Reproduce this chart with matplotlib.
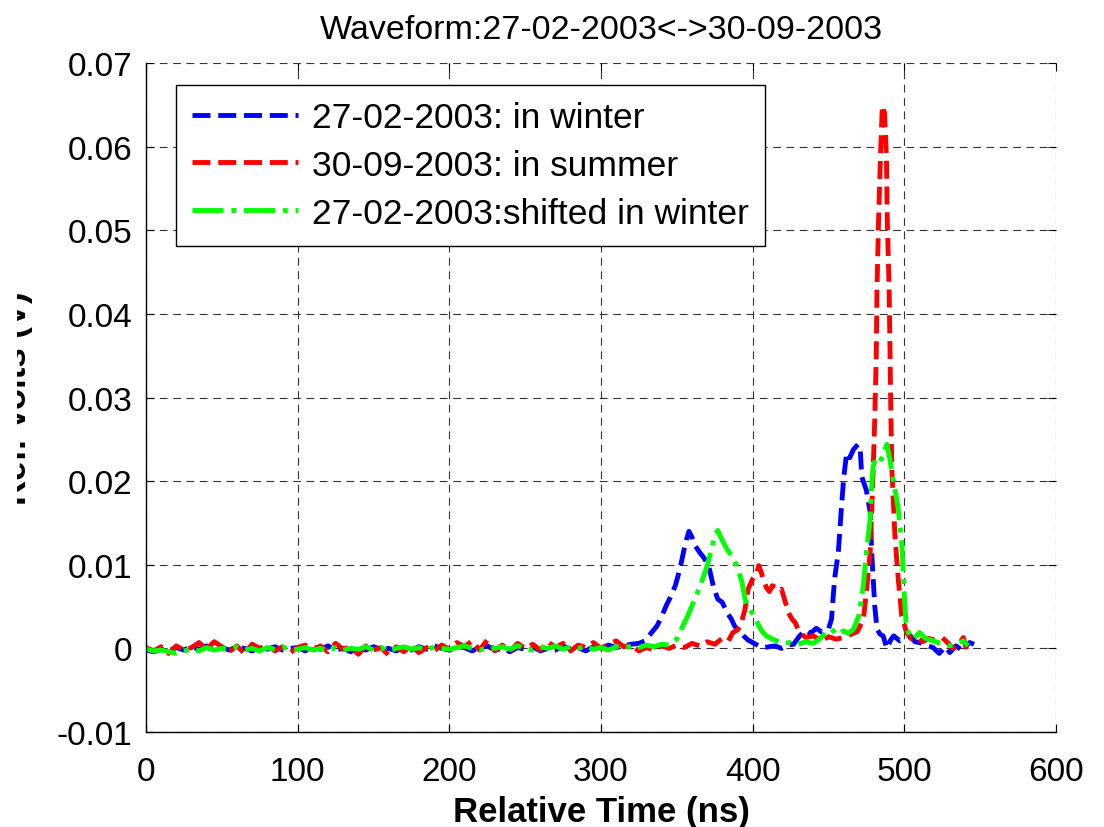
import matplotlib
matplotlib.use("Agg")
import matplotlib.pyplot as plt
from matplotlib.transforms import Bbox

plt.rcParams.update({
    "font.family": ["Liberation Sans", "DejaVu Sans"],
    "font.size": 24,
})

# --- waveform samples (time in ns, amplitude in V) ---
t_winter = [0, 5, 10, 15, 20, 25, 30, 35, 40, 45, 50, 55, 60, 65, 70, 75, 80, 85, 90, 95,
            100, 105, 110, 115, 120, 125, 130, 135, 140, 145, 150, 155, 160, 165, 170, 175,
            180, 185, 190, 195, 200, 205, 210, 215, 220, 225, 230, 235, 240, 245, 250, 255,
            260, 265, 270, 275, 280, 285, 290, 295, 300, 305, 310, 315, 320, 325,
            329, 333, 337, 340, 343, 346, 349, 351, 353, 355, 356.5, 358, 360, 362, 365, 368,
            371, 374, 377, 380, 383, 386, 388, 391, 394, 397, 400, 404, 407, 411, 415, 419,
            423, 427, 431, 435, 438, 442, 446, 450, 452, 454, 456.5, 458.5, 460, 462, 464,
            466.5, 469.5, 471, 472, 475, 477.5, 478.5, 479.5, 480.5, 482, 484, 486, 488.5,
            491, 493, 497, 500, 504, 507, 510, 514, 519, 523, 527, 530, 534, 538, 543, 546]
v_winter = [-0.0002, -0.0004, -0.0001, -0.0003, 0.0001, -0.0002, 0.0002, -0.0001, 0.0003, -0.0003,
            0.0001, -0.0002, 0.0002, 0.0000, -0.0003, 0.0001, -0.0001, 0.0002, -0.0002, 0.0000,
            0.0001, -0.0003, 0.0002, -0.0001, 0.0003, -0.0002, 0.0000, -0.0004, 0.0001, -0.0002,
            0.0002, -0.0001, 0.0000, -0.0003, 0.0001, -0.0002, 0.0002, -0.0001, 0.0003, 0.0000,
            -0.0002, 0.0002, 0.0001, -0.0003, 0.0001, 0.0003, -0.0002, 0.0000, -0.0004, 0.0001,
            -0.0001, 0.0002, -0.0003, 0.0000, -0.0002, 0.0003, -0.0001, 0.0001, -0.0003, 0.0002,
            0.0000, 0.0004, 0.0001, 0.0003, 0.0005, 0.0006,
            0.0009, 0.0018, 0.0027, 0.0038, 0.0051, 0.0062, 0.0075, 0.0088, 0.0103, 0.0120,
            0.0131, 0.0140, 0.0133, 0.0123, 0.0115, 0.0108, 0.0099, 0.0075, 0.0059, 0.0055,
            0.0043, 0.0035, 0.0027, 0.0021, 0.0015, 0.0010, 0.0007, 0.0003, 0.0001, 0.0002,
            0.0003, 0.0000, 0.0004, 0.0005, 0.0015, 0.0022, 0.0018, 0.0024, 0.0019, 0.0023,
            0.0035, 0.0083, 0.0115, 0.0167, 0.0203, 0.0234, 0.0228, 0.0238, 0.0244, 0.0236,
            0.0205, 0.0189, 0.0163, 0.0115, 0.0083, 0.0051, 0.0023, 0.0017, 0.0015, 0.0000,
            0.0010, 0.0015, 0.0009, 0.0011, 0.0015, 0.0008, 0.0007, 0.0004, 0.0001, -0.0006,
            0.0002, -0.0005, 0.0003, -0.0002, 0.0007, 0.0005]

t_summer = [0, 5, 10, 15, 20, 25, 30, 35, 40, 45, 50, 55, 60, 65, 70, 75, 80, 85, 90, 95,
            100, 105, 110, 115, 120, 125, 130, 135, 140, 145, 150, 155, 160, 165, 170, 175,
            180, 185, 190, 195, 200, 205, 210, 215, 220, 225, 230, 235, 240, 245, 250, 255,
            260, 265, 270, 275, 280, 285, 290, 295, 300, 305, 310, 315, 320, 325, 330, 335,
            340, 345, 350, 355, 360, 365, 370, 375, 380, 384, 387, 390, 392, 395, 397, 400,
            402.5, 404, 405.5, 407, 409, 411, 413, 415, 417, 419, 421, 423.5, 426, 428, 431,
            435, 440, 445, 450, 455, 460, 465, 469, 473, 475, 477.5, 478.5, 479.5, 480.5,
            481.5, 482, 483, 484.3, 485.5, 487, 488.2, 488.8, 490, 490.6, 491.2, 491.8,
            493.8, 496, 498.3, 501.5, 505, 508, 512, 516, 520, 525, 529, 532, 535, 539, 541]
v_summer = [0.0001, -0.0003, 0.0002, -0.0006, 0.0003, -0.0002, 0.0001, 0.0007, -0.0001, 0.0008,
            0.0002, -0.0004, 0.0003, -0.0006, 0.0005, 0.0000, 0.0004, -0.0003, 0.0002, -0.0005,
            0.0001, 0.0004, -0.0002, 0.0003, -0.0004, 0.0006, -0.0001, 0.0002, -0.0007, 0.0003,
            -0.0002, 0.0001, -0.0008, 0.0002, -0.0004, 0.0003, -0.0005, 0.0001, -0.0003, 0.0004,
            -0.0001, 0.0007, 0.0002, 0.0009, -0.0002, 0.0010, -0.0003, 0.0004, -0.0004, 0.0006,
            0.0000, 0.0005, -0.0002, 0.0008, 0.0001, 0.0006, -0.0003, 0.0004, 0.0001, 0.0007,
            0.0000, 0.0005, 0.0009, 0.0002, 0.0004, -0.0003, 0.0001, -0.0002, 0.0003, 0.0000,
            0.0004, 0.0001, 0.0006, 0.0003, 0.0008, 0.0005, 0.0012, 0.0009, 0.0019, 0.0022,
            0.0027, 0.0047, 0.0071, 0.0083, 0.0089, 0.0099, 0.0092, 0.0083, 0.0073, 0.0068,
            0.0075, 0.0073, 0.0069, 0.0071, 0.0059, 0.0043, 0.0035, 0.0031, 0.0019, 0.0013,
            0.0015, 0.0009, 0.0014, 0.0011, 0.0013, 0.0017, 0.0020, 0.0035, 0.0067, 0.0115,
            0.0163, 0.0215, 0.0274, 0.0350, 0.0430, 0.0510, 0.0589, 0.0649, 0.0640, 0.0589,
            0.0510, 0.0430, 0.0350, 0.0274, 0.0215, 0.0135, 0.0083, 0.0039, 0.0019, 0.0011,
            0.0013, 0.0008, 0.0012, 0.0010, 0.0013, 0.0006, 0.0000, 0.0004, 0.0013, -0.0001]

t_shifted = [0, 5, 10, 15, 20, 25, 30, 35, 40, 45, 50, 55, 60, 65, 70, 75, 80, 85, 90, 95,
             100, 105, 110, 115, 120, 125, 130, 135, 140, 145, 150, 155, 160, 165, 170, 175,
             180, 185, 190, 195, 200, 205, 210, 215, 220, 225, 230, 235, 240, 245, 250, 255,
             260, 265, 270, 275, 280, 285, 290, 295, 300, 305, 310, 315, 320, 325, 330, 335,
             340, 345, 350, 354, 357, 360, 363, 365.5, 368, 370, 373, 375, 377, 379.5, 383,
             386, 389.5, 393, 395, 397, 399.5, 403, 406, 409, 412, 416, 420, 425, 430, 435,
             440, 444, 448, 452, 456, 460, 463, 466.5, 470, 473, 475, 477.5, 478.5, 479.5,
             482, 485, 488.5, 490.5, 493, 496, 498.3, 499.4, 500.5, 501.5, 504, 506, 510,
             514, 519, 524, 530, 535, 539, 542]
v_shifted = [-0.0001, -0.0003, -0.0002, -0.0004, -0.0006, -0.0003, -0.0001, -0.0003, 0.0001, -0.0002,
             0.0000, -0.0001, 0.0002, -0.0002, 0.0000, -0.0003, 0.0001, -0.0001, 0.0002, -0.0002,
             -0.0001, 0.0001, -0.0002, 0.0000, -0.0003, 0.0001, -0.0002, 0.0000, -0.0001, 0.0002,
             -0.0002, 0.0001, -0.0003, 0.0000, 0.0002, -0.0001, 0.0001, -0.0002, 0.0002, 0.0000,
             -0.0001, 0.0001, 0.0003, 0.0000, -0.0002, 0.0001, 0.0000, 0.0002, -0.0001, 0.0003,
             0.0000, -0.0002, 0.0002, 0.0000, 0.0003, -0.0001, 0.0002, 0.0000, 0.0003, -0.0001,
             0.0001, -0.0002, 0.0002, 0.0000, 0.0003, 0.0001, 0.0004, 0.0002, 0.0005, 0.0004,
             0.0011, 0.0027, 0.0038, 0.0051, 0.0064, 0.0075, 0.0088, 0.0099, 0.0119, 0.0135,
             0.0141, 0.0131, 0.0119, 0.0111, 0.0099, 0.0079, 0.0059, 0.0050, 0.0043, 0.0031,
             0.0021, 0.0015, 0.0012, 0.0009, 0.0006, 0.0007, 0.0005, 0.0008, 0.0006, 0.0011,
             0.0018, 0.0023, 0.0016, 0.0021, 0.0018, 0.0023, 0.0039, 0.0075, 0.0115, 0.0155,
             0.0195, 0.0218, 0.0230, 0.0226, 0.0244, 0.0226, 0.0199, 0.0167, 0.0127, 0.0087,
             0.0047, 0.0023, 0.0015, 0.0011, 0.0019, 0.0012, 0.0009, 0.0006, 0.0003, 0.0006,
             0.0009, 0.0003]

labels = ["27-02-2003: in winter", "30-09-2003: in summer", "27-02-2003:shifted in winter"]

x_ticks = [0, 100, 200, 300, 400, 500, 600]
x_tick_labels = ["0", "100", "200", "300", "400", "500", "600"]
y_ticks = [-0.01, 0, 0.01, 0.02, 0.03, 0.04, 0.05, 0.06, 0.07]
y_tick_labels = ["-0.01", "0", "0.01", "0.02", "0.03", "0.04", "0.05", "0.06", "0.07"]

fig = plt.figure(figsize=(11.04, 8.28), dpi=100)
ax = fig.add_axes([0.1322, 0.1147, 0.8243, 0.808])

lw = 3.5
ax.plot(t_winter, v_winter, "--", color="#0000ff", linewidth=lw, label=labels[0])
ax.plot(t_summer, v_summer, "--", color="#ff0000", linewidth=lw, label=labels[1])
ax.plot(t_shifted, v_shifted, "-.", color="#00ff00", linewidth=lw, label=labels[2])

ax.set_xlim(0, 600)
ax.set_ylim(-0.01, 0.07)
ax.set_xticks(x_ticks)
ax.set_xticklabels(x_tick_labels)
ax.set_yticks(y_ticks)
ax.set_yticklabels(y_tick_labels)
ax.tick_params(direction="in", length=6, width=0.8, labelsize=24, top=True, right=True)
ax.tick_params(axis="x", pad=17)
ax.tick_params(axis="y", pad=10)

# matlab-style dashed grid, box edges on top/right come from the grid
ax.grid(True, color="0.2", linestyle=(0, (7, 5)), linewidth=0.8)
for side in ["top", "right"]:
    ax.spines[side].set_visible(False)
for side in ["left", "bottom"]:
    ax.spines[side].set_linewidth(1.0)

ax.set_title("Waveform:27-02-2003<->30-09-2003", fontsize=24.5, pad=18)
ax.set_xlabel("Relative Time (ns)", fontsize=25, fontweight="bold", labelpad=6)
ylab = ax.set_ylabel("Ref. Volts (V)", fontsize=25, fontweight="bold")
ax.yaxis.set_label_coords(-0.124, 0.5)
# label runs off the left edge of the canvas
ylab.set_clip_box(Bbox.from_extents(17, 0, 1104, 828))
ylab.set_clip_on(True)

leg = ax.legend(loc="upper left", bbox_to_anchor=(0.033, 0.967), borderaxespad=0,
                fontsize=25.5, handlelength=3.0, handletextpad=0.4, labelspacing=0.42,
                borderpad=0.45, fancybox=False, framealpha=1)
leg.get_frame().set_edgecolor("black")
leg.get_frame().set_linewidth(1.0)

fig.savefig("out.png", dpi=100)
